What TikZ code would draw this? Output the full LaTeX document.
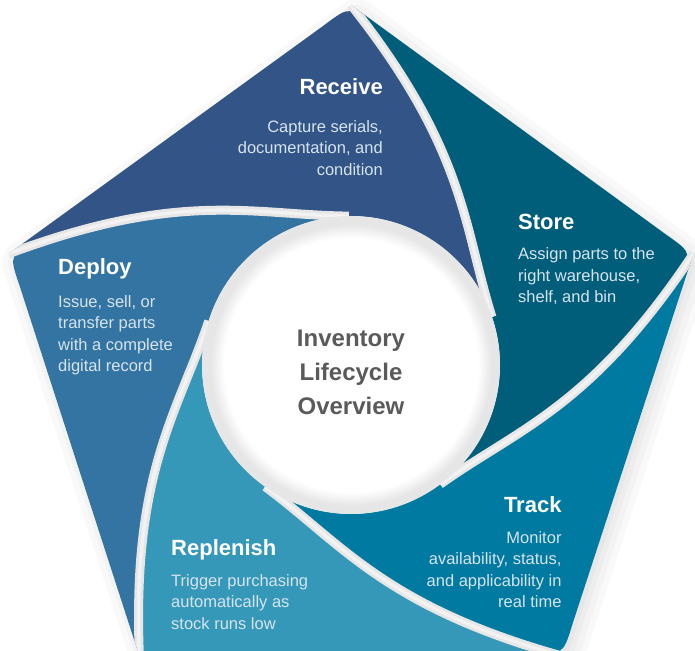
\documentclass[tikz,border=0pt]{standalone}
\usepackage{fontspec}
\setmainfont{Liberation Sans}
\usepackage{tikz}
\definecolor{receive}{HTML}{325487}
\definecolor{store}{HTML}{005E7A}
\definecolor{track}{HTML}{007AA0}
\definecolor{replenish}{HTML}{3698B8}
\definecolor{deploy}{HTML}{3474A2}
\definecolor{gapgray}{HTML}{E6E6E6}
\definecolor{gaplight}{HTML}{F2F2F2}
\definecolor{bodytext}{HTML}{D6E4EF}
\definecolor{hubtext}{HTML}{5A5A5A}
\pgfdeclareradialshading{hub}{\pgfpoint{0bp}{0bp}}{color(0bp)=(white); color(21.3bp)=(white); color(23.6bp)=(gapgray); color(25bp)=(gapgray); color(50bp)=(gapgray)}
\tikzset{
    blade title/.style={text=white, inner sep=0pt, font=\fontsize{22}{26}\selectfont\bfseries},
    blade text/.style={text=bodytext, inner sep=0pt, font=\fontsize{16.5}{21.5}\selectfont},
    hub text/.style={text=hubtext, inner sep=0pt, align=center, font=\fontsize{24}{34}\selectfont\bfseries},
    gapline/.style={draw=gapgray, line width=9pt},
    gapshine/.style={draw=gaplight, line width=3.5pt}
}

\begin{document}
\begin{tikzpicture}[x=1pt,y=1pt]
    \useasboundingbox (-351,-285) rectangle (344,365);
    % soft shadow, falling to the lower right
    \foreach \w in {44,32,20,10}
        \draw[black, opacity=0.022, line width=\w pt, line join=round, shift={(6,-6)}]
            (90:350) -- (18:350) -- (-54:350) -- (-126:350) -- (162:350) -- cycle;
    % the five blades
    \foreach \t/\c in {162/receive, 90/store, 18/track, -54/replenish, -126/deploy}
        \fill[\c] (\t:360) -- ({\t-67.35}:340.4) .. controls ({\t-72}:360) .. ({\t-75.64}:332.6)
            .. controls ({\t-100.1}:243.8) and ({\t-110.7}:179.3) .. ({\t-143.2}:148.9)
            arc[start angle=\t-143.2, end angle=\t-71.2, radius=148.9]
            .. controls ({\t-38.7}:179.3) and ({\t-28.1}:243.8) .. (\t:360) -- cycle;
    \begin{scope}
        \clip (90:360) -- (18:360) -- (-54:360) -- (-126:360) -- (162:360) -- cycle;
        \foreach \v in {162,90,18,-54,-126}{
            \draw[gapline] (\v:360) .. controls ({\v-28.1}:243.8) and ({\v-38.7}:179.3) .. ({\v-71.2}:148.9);
            \draw[gapshine] (\v:360) .. controls ({\v-28.1}:243.8) and ({\v-38.7}:179.3) .. ({\v-71.2}:148.9);
        }
    \end{scope}
    \shade[shading=hub] (0,0) circle (149);

    \node[hub text] (hub) at (0,-7) {Inventory\\Lifecycle\\Overview};

    \node[blade title, anchor=base east] (rcvTitle) at (32,270) {Receive};
    \node[blade text, anchor=north east, align=right] (rcvText) at (32,245.1)
        {Capture serials,\\documentation, and\\condition};
    \node[blade title, anchor=base west] (stoTitle) at (167,135.7) {Store};
    \node[blade text, anchor=north west, align=left] (stoText) at (167,117.5)
        {Assign parts to the\\right warehouse,\\shelf, and bin};
    \node[blade title, anchor=base east] (trkTitle) at (210.7,-147.7) {Track};
    \node[blade text, anchor=north east, align=right] (trkText) at (210.7,-165.9)
        {Monitor\\availability, status,\\and applicability in\\real time};
    \node[blade title, anchor=base west] (repTitle) at (-180,-190.7) {Replenish};
    \node[blade text, anchor=north west, align=left] (repText) at (-180,-208.9)
        {Trigger purchasing\\automatically as\\stock runs low};
    \node[blade title, anchor=base west] (depTitle) at (-293,90) {Deploy};
    \node[blade text, anchor=north west, align=left] (depText) at (-293,70.1)
        {Issue, sell, or\\transfer parts\\with a complete\\digital record};
\end{tikzpicture}
\end{document}
